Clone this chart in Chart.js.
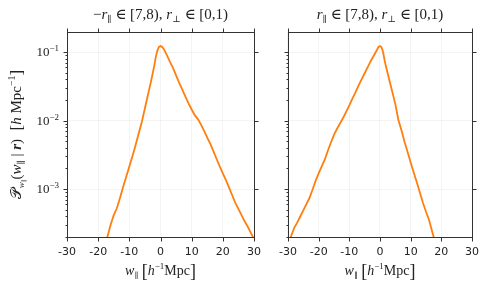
<!DOCTYPE html>
<html>
<head>
<meta charset="utf-8">
<script src="https://cdn.jsdelivr.net/npm/chart.js@4.4.1/dist/chart.umd.min.js"></script>
<style>
  body { margin: 0; background: #fff; }
  #figura { position: relative; width: 488px; height: 287px; overflow: hidden; }
  canvas { position: absolute; top: 0; }
</style>
</head>
<body>
<div id="figura">
  <canvas id="panelIzq" width="270" height="287" style="left:0"></canvas>
  <canvas id="panelDer" width="218" height="287" style="left:270px"></canvas>
</div>
<script>
// Datos (w en h^-1 Mpc, densidad en h Mpc^-1)
const wIzq = [-18, -17, -16, -15, -14, -13, -12, -11, -10, -9, -8, -7, -6, -5, -4, -3, -2, -1.5, -1, -0.5, 0, 0.5,
              1, 2, 3, 4, 5, 6, 7, 8, 9, 10, 11, 12, 13, 14, 15, 16, 17, 18, 19, 20, 21, 22, 23, 24, 25, 26, 27, 28, 29, 30];
const pIzq = [1.51e-4, 2.04e-4, 3.02e-4, 4.17e-4, 5.25e-4, 7.41e-4, 1.07e-3, 1.51e-3, 2.14e-3, 3.02e-3, 4.37e-3,
              6.46e-3, 9.55e-3, 0.0151, 0.0240, 0.0380, 0.0631, 0.0851, 0.105, 0.119, 0.122, 0.119,
              0.112, 0.0912, 0.0724, 0.0589, 0.0457, 0.0355, 0.0282, 0.0224, 0.0178, 0.0145, 0.0120, 0.0105,
              8.71e-3, 7.08e-3, 5.62e-3, 4.57e-3, 3.55e-3, 2.75e-3, 2.14e-3, 1.70e-3, 1.35e-3, 1.05e-3,
              8.13e-4, 6.31e-4, 5.13e-4, 4.17e-4, 3.39e-4, 2.82e-4, 2.29e-4, 1.86e-4];

const wDer = [-30, -29, -28, -27, -26, -25, -24, -23, -22, -21, -20, -19, -18, -17, -16, -15, -14, -13, -12, -11,
              -10, -9, -8, -7, -6, -5, -4, -3, -2, -1, -0.5, 0, 0.5, 1, 1.5, 2, 3, 4, 5, 6, 7, 8, 9, 10,
              11, 12, 13, 14, 15, 16, 17, 18];
const pDer = [1.74e-4, 2.04e-4, 2.69e-4, 3.24e-4, 3.98e-4, 4.90e-4, 6.03e-4, 7.41e-4, 9.77e-4, 1.32e-3,
              1.70e-3, 2.14e-3, 2.69e-3, 3.63e-3, 4.79e-3, 6.17e-3, 7.59e-3, 9.12e-3, 0.0110, 0.0135,
              0.0166, 0.0209, 0.0257, 0.0324, 0.0398, 0.0490, 0.0603, 0.0741, 0.0891, 0.107, 0.119, 0.122, 0.117,
              0.100, 0.0759, 0.0603, 0.0398, 0.0263, 0.0174, 0.0102, 7.24e-3, 4.90e-3, 3.47e-3, 2.45e-3,
              1.74e-3, 1.26e-3, 8.91e-4, 6.31e-4, 4.68e-4, 3.55e-4, 2.40e-4, 1.66e-4];

const xTicks = [-30, -20, -10, 0, 10, 20, 30];
const xTickLabels = ["-30", "-20", "-10", "0", "10", "20", "30"];
const yTicks = [0.1, 0.01, 0.001];
const yTickExp = ["\u22121", "\u22122", "\u22123"];

const SERIF = "'Liberation Serif', 'DejaVu Serif', serif";
const COLOR_LINEA = "#ff7f0e";

// Dibuja texto con partes de distinto tamaño/estilo: [texto, tamaño, estilo, desplazamiento vertical]
function textoRico(ctx, partes, x, y) {
    let ancho = 0;
    partes.forEach(p => {
        ctx.font = `${p[2]} ${p[1]}px ${SERIF}`;
        ancho += ctx.measureText(p[0]).width;
    });
    let cx = x - ancho / 2;
    partes.forEach(p => {
        ctx.font = `${p[2]} ${p[1]}px ${SERIF}`;
        ctx.fillText(p[0], cx, y + p[3]);
        cx += ctx.measureText(p[0]).width;
    });
}

const tituloX = [
    ["w", 14, "italic", 0], ["\u2225", 8, "normal", 3], [" ", 14, "normal", 0],
    ["[", 18, "normal", 2], ["h", 14, "italic", 0], ["\u22121", 9, "normal", -6],
    ["Mpc", 14, "normal", 0], ["]", 18, "normal", 2]
];

const tituloY = [
    ["\uD835\uDCAB", 15, "normal", 0], ["w", 9, "italic", 3], ["\u2225", 6, "normal", 5],
    ["(", 15, "normal", 0], ["w", 15, "italic", 0], ["\u2225", 9, "normal", 3],
    [" | ", 15, "normal", 0], ["r", 15, "bold italic", 0], [")", 15, "normal", 0],
    ["  [", 17, "normal", 1], ["h", 15, "italic", 0], [" Mpc", 15, "normal", 0],
    ["\u22121", 10, "normal", -6], ["]", 17, "normal", 1]
];

const marco = {
    id: "marco",
    afterDraw(chart, args, opts) {
        const { ctx, chartArea: a, scales: { x, y } } = chart;
        const L = Math.round(a.left) + 0.5, R = Math.round(a.right) + 0.5;
        const T = Math.round(a.top) + 0.5, B = Math.round(a.bottom) + 0.5;
        ctx.save();
        ctx.strokeStyle = "#333";
        ctx.lineWidth = 1;
        ctx.strokeRect(L, T, R - L, B - T);
        ctx.beginPath();
        xTicks.forEach(v => {
            const px = Math.round(x.getPixelForValue(v)) + 0.5;
            ctx.moveTo(px, B); ctx.lineTo(px, B + 4);
            ctx.moveTo(px, T); ctx.lineTo(px, T - 4);
        });
        yTicks.forEach(v => {
            const py = Math.round(y.getPixelForValue(v)) + 0.5;
            ctx.moveTo(L, py); ctx.lineTo(L - 4, py);
            ctx.moveTo(R, py); ctx.lineTo(R + 4, py);
        });
        for (let d = -4; d <= -1; d++) {
            for (let k = 2; k <= 9; k++) {
                const v = k * Math.pow(10, d);
                if (v < y.min || v > y.max) continue;
                const py = Math.round(y.getPixelForValue(v)) + 0.5;
                ctx.moveTo(L, py); ctx.lineTo(L - 2, py);
            }
        }
        ctx.stroke();

        ctx.fillStyle = "#222";
        ctx.textBaseline = "alphabetic";
        ctx.textAlign = "left";
        const cx = (a.left + a.right) / 2;
        textoRico(ctx, opts.titulo, cx, 19);
        textoRico(ctx, tituloX, cx, 275);

        if (opts.etiquetasY) {
            yTicks.forEach((v, i) => {
                const py = y.getPixelForValue(v);
                ctx.font = `normal 9px ${SERIF}`;
                const wExp = ctx.measureText(yTickExp[i]).width;
                ctx.fillText(yTickExp[i], a.left - 8 - wExp, py - 1);
                ctx.font = `normal 13px ${SERIF}`;
                const wBase = ctx.measureText("10").width;
                ctx.fillText("10", a.left - 8 - wExp - wBase, py + 4);
            });
            ctx.save();
            ctx.translate(21, (a.top + a.bottom) / 2);
            ctx.rotate(-Math.PI / 2);
            textoRico(ctx, tituloY, 0, 0);
            ctx.restore();
        }
        ctx.restore();
    }
};

function crearPanel(id, w, p, titulo, anchoY, rellenoDer, etiquetasY) {
    return new Chart(document.getElementById(id), {
        type: "line",
        data: {
            datasets: [{
                data: w.map((v, i) => ({ x: v, y: p[i] })),
                borderColor: COLOR_LINEA,
                borderWidth: 1.8,
                pointRadius: 0,
                tension: 0,
                fill: false
            }]
        },
        options: {
            responsive: false,
            animation: false,
            devicePixelRatio: 1,
            layout: { padding: { top: 32, right: rellenoDer, bottom: 0, left: 0 } },
            scales: {
                x: {
                    type: "linear",
                    min: -30, max: 30,
                    afterBuildTicks: s => { s.ticks = xTicks.map(v => ({ value: v })); },
                    afterFit: s => { s.height = 50; },
                    border: { display: false },
                    grid: { color: "rgba(0,0,0,0.045)", drawTicks: false },
                    ticks: {
                        padding: 9,
                        color: "#222",
                        font: { family: "'DejaVu Sans'", size: 11 },
                        maxRotation: 0,
                        callback: (v, i) => xTickLabels[i]
                    }
                },
                y: {
                    type: "logarithmic",
                    min: 2.0e-4, max: 0.196,
                    afterBuildTicks: s => { s.ticks = yTicks.map(v => ({ value: v })); },
                    afterFit: s => { s.width = anchoY; },
                    border: { display: false },
                    grid: { color: "rgba(0,0,0,0.045)", drawTicks: false },
                    ticks: { display: false }
                }
            },
            plugins: {
                legend: { display: false },
                tooltip: { enabled: false },
                marco: { titulo: titulo, etiquetasY: etiquetasY }
            }
        },
        plugins: [marco]
    });
}

const tituloIzq = [
    ["\u2212", 15, "normal", 0], ["r", 15, "italic", 0], ["\u2225", 9, "normal", 3],
    [" \u2208 [7,8), ", 15, "normal", 0], ["r", 15, "italic", 0], ["\u22a5", 9, "normal", 3],
    [" \u2208 [0,1)", 15, "normal", 0]
];
const tituloDer = tituloIzq.slice(1);

crearPanel("panelIzq", wIzq, pIzq, tituloIzq, 67, 11, true);
crearPanel("panelDer", wDer, pDer, tituloDer, 12, 14, false);
</script>
</body>
</html>
